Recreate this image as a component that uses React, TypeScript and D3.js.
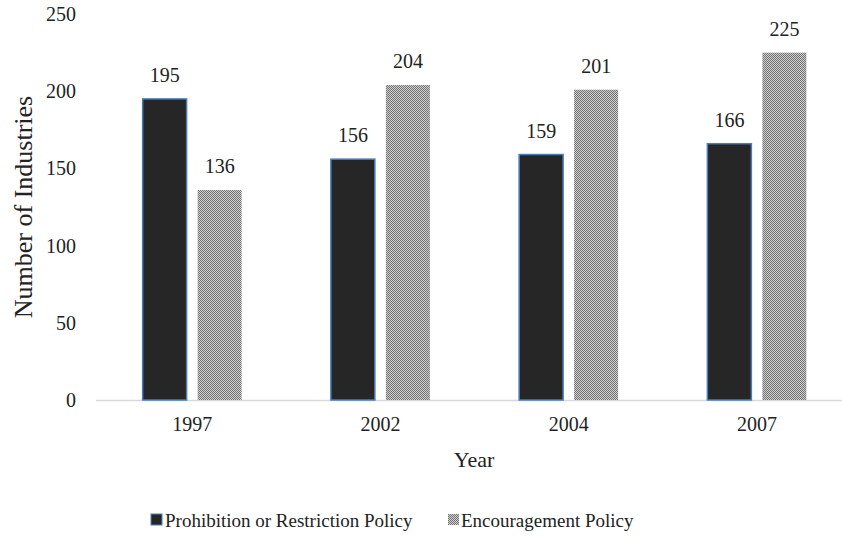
import React from "react";
import * as d3 from "d3";

const years = ["1997", "2002", "2004", "2007"];
const prohibition = [195, 156, 159, 166];
const encouragement = [136, 204, 201, 225];
const yTicks = [0, 50, 100, 150, 200, 250];
const seriesNames = ["Prohibition or Restriction Policy", "Encouragement Policy"];

const W = 842;
const H = 540;
const FONT = "Liberation Serif, DejaVu Serif, Times New Roman, serif";

export default function App() {
  const x = d3.scaleBand().domain(years).range([98, 851]).paddingInner(0).paddingOuter(0);
  const y = d3.scaleLinear().domain([0, 250]).range([400, 14]);
  const barW = 44;
  const gap = 11;
  const series = [prohibition, encouragement];
  const ts = { fontFamily: FONT };

  return (
    <svg width={W} height={H} style={{ position: "absolute", left: 0, top: 0, background: "#fff", fontFamily: FONT }}>
      <defs>
        <pattern id="checker" width="2" height="2" patternUnits="userSpaceOnUse">
          <rect width="2" height="2" fill="#d2d2d2" />
          <rect width="1" height="1" fill="#707070" />
          <rect x="1" y="1" width="1" height="1" fill="#707070" />
        </pattern>
      </defs>
      {yTicks.map((t) => (
        <text key={t} x={76} y={y(t)} dy="0.35em" textAnchor="end" style={ts} fontSize={20} fill="#222">
          {t}
        </text>
      ))}
      <line x1={96} x2={W} y1={y(0) + 0.5} y2={y(0) + 0.5} stroke="#d9d9d9" strokeWidth={1.5} />
      {years.map((yr, i) => {
        const cx = (x(yr) as number) + x.bandwidth() / 2;
        return (
          <g key={yr}>
            {series.map((s, j) => {
              const bx = j === 0 ? cx - gap / 2 - barW : cx + gap / 2;
              const top = y(s[i]);
              return (
                <g key={j}>
                  <rect
                    x={bx}
                    y={top}
                    width={barW}
                    height={y(0) - top}
                    fill={j === 0 ? "#262626" : "url(#checker)"}
                    stroke={j === 0 ? "#4a7ebb" : "none"}
                    strokeWidth={1.5}
                  />
                  <text x={bx + barW / 2} y={top - 24} dy="0.35em" textAnchor="middle" style={ts} fontSize={20} fill="#222">
                    {s[i]}
                  </text>
                </g>
              );
            })}
            <text x={cx} y={424} dy="0.35em" textAnchor="middle" style={ts} fontSize={20} fill="#222">
              {yr}
            </text>
          </g>
        );
      })}
      <text x={474} y={467} textAnchor="middle" style={ts} fontSize={22} fill="#222">
        Year
      </text>
      <text transform={`translate(32,207) rotate(-90)`} textAnchor="middle" style={ts} fontSize={26} fill="#222">
        Number of Industries
      </text>
      <g>
        <rect x={151} y={514} width={11} height={11} fill="#262626" stroke="#4a7ebb" strokeWidth={1} />
        <text x={165} y={520} dy="0.35em" style={ts} fontSize={19} fill="#222">
          {seriesNames[0]}
        </text>
        <rect x={448} y={514} width={11} height={11} fill="url(#checker)" />
        <text x={461} y={520} dy="0.35em" style={ts} fontSize={19} fill="#222">
          {seriesNames[1]}
        </text>
      </g>
    </svg>
  );
}
